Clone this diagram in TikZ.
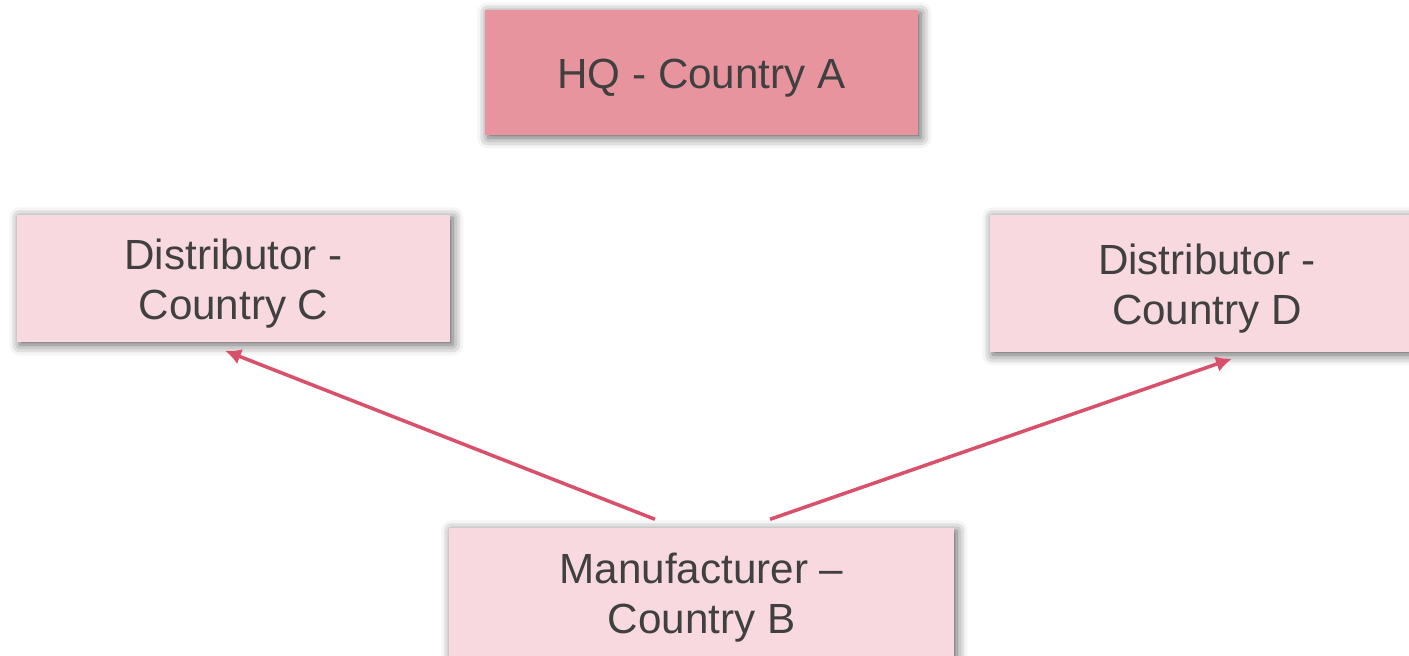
\documentclass[tikz,border=0pt]{standalone}
\usepackage{fontspec}
\setmainfont{Liberation Sans}
\usetikzlibrary{arrows.meta,shadows.blur}
\definecolor{hqpink}{HTML}{E8949F}
\definecolor{boxpink}{HTML}{F7D9DF}
\definecolor{linkred}{HTML}{D9506A}
\definecolor{textgray}{HTML}{404040}
\newcommand{\lift}{\rule{0pt}{11.8pt}}
\begin{document}
\begin{tikzpicture}[
		box/.style={draw=none, fill=boxpink, text=textgray, align=center, inner sep=0pt,
			font=\fontsize{12}{14.2}\selectfont,
			blur shadow={shadow xshift=0.8pt, shadow yshift=-0.8pt, shadow blur radius=3pt, shadow opacity=65}},
		link/.style={draw=linkred, line width=1pt, -{Latex[length=0.16cm, width=0.16cm]}}
	]
	\useasboundingbox (0, 0) rectangle (14.09, -6.56);
	% the four offices
	\node [box, fill=hqpink, minimum width=4.33cm, minimum height=1.25cm] (hq) at (7.015, -0.725) {\lift HQ - Country A};
	\node [box, minimum width=4.33cm, minimum height=1.27cm] (distC) at (2.335, -2.785) {\lift Distributor -\\Country C};
	\node [box, minimum width=4.34cm, minimum height=1.37cm] (distD) at (12.07, -2.835) {\lift Distributor -\\Country D};
	\node [box, minimum width=5.05cm, minimum height=1.28cm] (mfr) at (7.015, -5.92) {\lift Manufacturer --\\Country B};
	% shipments
	\draw [link] ([xshift=-0.465cm, yshift=0.08cm]mfr.north) -- ([xshift=-0.085cm, yshift=-0.08cm]distC.south);
	\draw [link] ([xshift=0.685cm, yshift=0.08cm]mfr.north) -- ([xshift=0.25cm, yshift=-0.06cm]distD.south);
\end{tikzpicture}
\end{document}
